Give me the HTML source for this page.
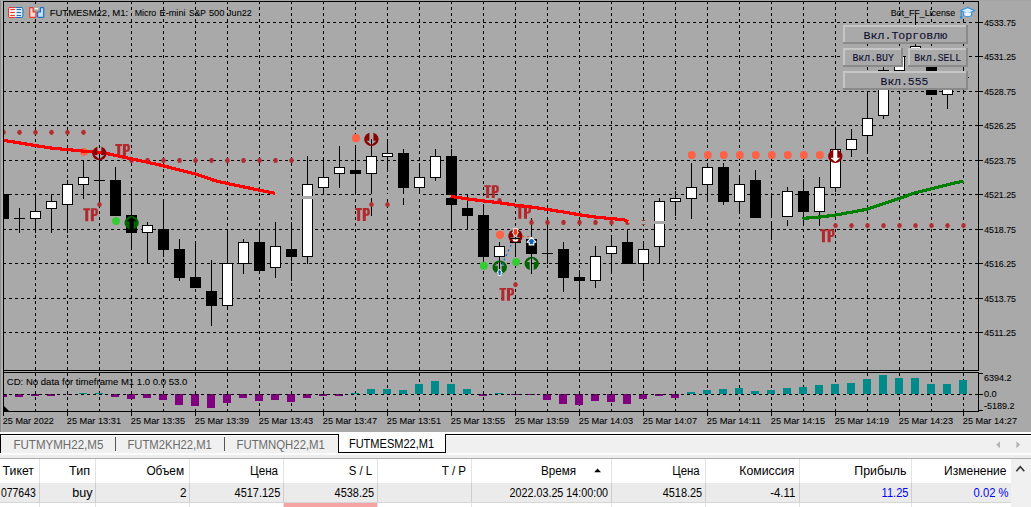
<!DOCTYPE html>
<html lang="ru"><head><meta charset="utf-8"><title>FUTMESM22,M1</title>
<style>
html,body{margin:0;padding:0;background:#fff;overflow:hidden}
body{width:1031px;height:507px;font-family:"Liberation Sans",sans-serif}
svg{display:block;position:absolute;left:0;top:0}
text{white-space:pre}
</style></head><body>
<svg width="1031" height="507" viewBox="0 0 1031 507">
<rect x="0" y="0" width="1031" height="507" fill="#fff"/>
<rect x="0" y="0" width="1031" height="432" fill="#A9A9A9"/>
<rect x="0" y="0" width="1" height="432" fill="#8e8e8e"/>
<rect x="1" y="0" width="2" height="432" fill="#b0b0b0"/>
<rect x="0" y="0" width="1031" height="1" fill="#a6a6a6"/>
<g shape-rendering="crispEdges">
<rect x="3" y="1" width="976" height="1" fill="#000"/>
<rect x="3" y="1" width="1" height="411" fill="#000"/>
<rect x="978" y="1" width="1" height="370" fill="#000"/>
<rect x="978" y="372" width="1" height="40" fill="#000"/>
<rect x="3" y="370" width="976" height="1" fill="#000"/>
<rect x="3" y="372" width="976" height="1" fill="#000"/>
<rect x="3" y="411" width="976" height="1" fill="#000"/>
<line x1="3" y1="22.5" x2="978" y2="22.5" stroke="#000" stroke-width="1" stroke-dasharray="3 3"/>
<line x1="3" y1="56.5" x2="978" y2="56.5" stroke="#000" stroke-width="1" stroke-dasharray="3 3"/>
<line x1="3" y1="91.5" x2="978" y2="91.5" stroke="#000" stroke-width="1" stroke-dasharray="3 3"/>
<line x1="3" y1="125.5" x2="978" y2="125.5" stroke="#000" stroke-width="1" stroke-dasharray="3 3"/>
<line x1="3" y1="160.5" x2="978" y2="160.5" stroke="#000" stroke-width="1" stroke-dasharray="3 3"/>
<line x1="3" y1="194.5" x2="978" y2="194.5" stroke="#000" stroke-width="1" stroke-dasharray="3 3"/>
<line x1="3" y1="229.5" x2="978" y2="229.5" stroke="#000" stroke-width="1" stroke-dasharray="3 3"/>
<line x1="3" y1="263.5" x2="978" y2="263.5" stroke="#000" stroke-width="1" stroke-dasharray="3 3"/>
<line x1="3" y1="298.5" x2="978" y2="298.5" stroke="#000" stroke-width="1" stroke-dasharray="3 3"/>
<line x1="3" y1="332.5" x2="978" y2="332.5" stroke="#000" stroke-width="1" stroke-dasharray="3 3"/>
<line x1="35.5" y1="1" x2="35.5" y2="370" stroke="#000" stroke-width="1" stroke-dasharray="3 3"/>
<line x1="35.5" y1="373" x2="35.5" y2="411" stroke="#000" stroke-width="1" stroke-dasharray="3 3"/>
<line x1="67.5" y1="1" x2="67.5" y2="370" stroke="#000" stroke-width="1" stroke-dasharray="3 3"/>
<line x1="67.5" y1="373" x2="67.5" y2="411" stroke="#000" stroke-width="1" stroke-dasharray="3 3"/>
<line x1="99.5" y1="1" x2="99.5" y2="370" stroke="#000" stroke-width="1" stroke-dasharray="3 3"/>
<line x1="99.5" y1="373" x2="99.5" y2="411" stroke="#000" stroke-width="1" stroke-dasharray="3 3"/>
<line x1="131.5" y1="1" x2="131.5" y2="370" stroke="#000" stroke-width="1" stroke-dasharray="3 3"/>
<line x1="131.5" y1="373" x2="131.5" y2="411" stroke="#000" stroke-width="1" stroke-dasharray="3 3"/>
<line x1="163.5" y1="1" x2="163.5" y2="370" stroke="#000" stroke-width="1" stroke-dasharray="3 3"/>
<line x1="163.5" y1="373" x2="163.5" y2="411" stroke="#000" stroke-width="1" stroke-dasharray="3 3"/>
<line x1="195.5" y1="1" x2="195.5" y2="370" stroke="#000" stroke-width="1" stroke-dasharray="3 3"/>
<line x1="195.5" y1="373" x2="195.5" y2="411" stroke="#000" stroke-width="1" stroke-dasharray="3 3"/>
<line x1="227.5" y1="1" x2="227.5" y2="370" stroke="#000" stroke-width="1" stroke-dasharray="3 3"/>
<line x1="227.5" y1="373" x2="227.5" y2="411" stroke="#000" stroke-width="1" stroke-dasharray="3 3"/>
<line x1="259.5" y1="1" x2="259.5" y2="370" stroke="#000" stroke-width="1" stroke-dasharray="3 3"/>
<line x1="259.5" y1="373" x2="259.5" y2="411" stroke="#000" stroke-width="1" stroke-dasharray="3 3"/>
<line x1="291.5" y1="1" x2="291.5" y2="370" stroke="#000" stroke-width="1" stroke-dasharray="3 3"/>
<line x1="291.5" y1="373" x2="291.5" y2="411" stroke="#000" stroke-width="1" stroke-dasharray="3 3"/>
<line x1="323.5" y1="1" x2="323.5" y2="370" stroke="#000" stroke-width="1" stroke-dasharray="3 3"/>
<line x1="323.5" y1="373" x2="323.5" y2="411" stroke="#000" stroke-width="1" stroke-dasharray="3 3"/>
<line x1="355.5" y1="1" x2="355.5" y2="370" stroke="#000" stroke-width="1" stroke-dasharray="3 3"/>
<line x1="355.5" y1="373" x2="355.5" y2="411" stroke="#000" stroke-width="1" stroke-dasharray="3 3"/>
<line x1="387.5" y1="1" x2="387.5" y2="370" stroke="#000" stroke-width="1" stroke-dasharray="3 3"/>
<line x1="387.5" y1="373" x2="387.5" y2="411" stroke="#000" stroke-width="1" stroke-dasharray="3 3"/>
<line x1="419.5" y1="1" x2="419.5" y2="370" stroke="#000" stroke-width="1" stroke-dasharray="3 3"/>
<line x1="419.5" y1="373" x2="419.5" y2="411" stroke="#000" stroke-width="1" stroke-dasharray="3 3"/>
<line x1="451.5" y1="1" x2="451.5" y2="370" stroke="#000" stroke-width="1" stroke-dasharray="3 3"/>
<line x1="451.5" y1="373" x2="451.5" y2="411" stroke="#000" stroke-width="1" stroke-dasharray="3 3"/>
<line x1="483.5" y1="1" x2="483.5" y2="370" stroke="#000" stroke-width="1" stroke-dasharray="3 3"/>
<line x1="483.5" y1="373" x2="483.5" y2="411" stroke="#000" stroke-width="1" stroke-dasharray="3 3"/>
<line x1="515.5" y1="1" x2="515.5" y2="370" stroke="#000" stroke-width="1" stroke-dasharray="3 3"/>
<line x1="515.5" y1="373" x2="515.5" y2="411" stroke="#000" stroke-width="1" stroke-dasharray="3 3"/>
<line x1="547.5" y1="1" x2="547.5" y2="370" stroke="#000" stroke-width="1" stroke-dasharray="3 3"/>
<line x1="547.5" y1="373" x2="547.5" y2="411" stroke="#000" stroke-width="1" stroke-dasharray="3 3"/>
<line x1="579.5" y1="1" x2="579.5" y2="370" stroke="#000" stroke-width="1" stroke-dasharray="3 3"/>
<line x1="579.5" y1="373" x2="579.5" y2="411" stroke="#000" stroke-width="1" stroke-dasharray="3 3"/>
<line x1="611.5" y1="1" x2="611.5" y2="370" stroke="#000" stroke-width="1" stroke-dasharray="3 3"/>
<line x1="611.5" y1="373" x2="611.5" y2="411" stroke="#000" stroke-width="1" stroke-dasharray="3 3"/>
<line x1="643.5" y1="1" x2="643.5" y2="370" stroke="#000" stroke-width="1" stroke-dasharray="3 3"/>
<line x1="643.5" y1="373" x2="643.5" y2="411" stroke="#000" stroke-width="1" stroke-dasharray="3 3"/>
<line x1="675.5" y1="1" x2="675.5" y2="370" stroke="#000" stroke-width="1" stroke-dasharray="3 3"/>
<line x1="675.5" y1="373" x2="675.5" y2="411" stroke="#000" stroke-width="1" stroke-dasharray="3 3"/>
<line x1="707.5" y1="1" x2="707.5" y2="370" stroke="#000" stroke-width="1" stroke-dasharray="3 3"/>
<line x1="707.5" y1="373" x2="707.5" y2="411" stroke="#000" stroke-width="1" stroke-dasharray="3 3"/>
<line x1="739.5" y1="1" x2="739.5" y2="370" stroke="#000" stroke-width="1" stroke-dasharray="3 3"/>
<line x1="739.5" y1="373" x2="739.5" y2="411" stroke="#000" stroke-width="1" stroke-dasharray="3 3"/>
<line x1="771.5" y1="1" x2="771.5" y2="370" stroke="#000" stroke-width="1" stroke-dasharray="3 3"/>
<line x1="771.5" y1="373" x2="771.5" y2="411" stroke="#000" stroke-width="1" stroke-dasharray="3 3"/>
<line x1="803.5" y1="1" x2="803.5" y2="370" stroke="#000" stroke-width="1" stroke-dasharray="3 3"/>
<line x1="803.5" y1="373" x2="803.5" y2="411" stroke="#000" stroke-width="1" stroke-dasharray="3 3"/>
<line x1="835.5" y1="1" x2="835.5" y2="370" stroke="#000" stroke-width="1" stroke-dasharray="3 3"/>
<line x1="835.5" y1="373" x2="835.5" y2="411" stroke="#000" stroke-width="1" stroke-dasharray="3 3"/>
<line x1="867.5" y1="1" x2="867.5" y2="370" stroke="#000" stroke-width="1" stroke-dasharray="3 3"/>
<line x1="867.5" y1="373" x2="867.5" y2="411" stroke="#000" stroke-width="1" stroke-dasharray="3 3"/>
<line x1="899.5" y1="1" x2="899.5" y2="370" stroke="#000" stroke-width="1" stroke-dasharray="3 3"/>
<line x1="899.5" y1="373" x2="899.5" y2="411" stroke="#000" stroke-width="1" stroke-dasharray="3 3"/>
<line x1="931.5" y1="1" x2="931.5" y2="370" stroke="#000" stroke-width="1" stroke-dasharray="3 3"/>
<line x1="931.5" y1="373" x2="931.5" y2="411" stroke="#000" stroke-width="1" stroke-dasharray="3 3"/>
<line x1="963.5" y1="1" x2="963.5" y2="370" stroke="#000" stroke-width="1" stroke-dasharray="3 3"/>
<line x1="963.5" y1="373" x2="963.5" y2="411" stroke="#000" stroke-width="1" stroke-dasharray="3 3"/>
<rect x="979" y="22" width="4" height="1" fill="#000"/>
<rect x="979" y="56" width="4" height="1" fill="#000"/>
<rect x="979" y="91" width="4" height="1" fill="#000"/>
<rect x="979" y="125" width="4" height="1" fill="#000"/>
<rect x="979" y="160" width="4" height="1" fill="#000"/>
<rect x="979" y="194" width="4" height="1" fill="#000"/>
<rect x="979" y="229" width="4" height="1" fill="#000"/>
<rect x="979" y="263" width="4" height="1" fill="#000"/>
<rect x="979" y="298" width="4" height="1" fill="#000"/>
<rect x="979" y="332" width="4" height="1" fill="#000"/>
<rect x="979" y="373" width="4" height="1" fill="#000"/>
<rect x="979" y="394" width="4" height="1" fill="#000"/>
<rect x="979" y="410" width="4" height="1" fill="#000"/>
<rect x="3" y="412" width="1" height="4" fill="#000"/>
<rect x="67" y="412" width="1" height="4" fill="#000"/>
<rect x="131" y="412" width="1" height="4" fill="#000"/>
<rect x="195" y="412" width="1" height="4" fill="#000"/>
<rect x="259" y="412" width="1" height="4" fill="#000"/>
<rect x="323" y="412" width="1" height="4" fill="#000"/>
<rect x="387" y="412" width="1" height="4" fill="#000"/>
<rect x="451" y="412" width="1" height="4" fill="#000"/>
<rect x="515" y="412" width="1" height="4" fill="#000"/>
<rect x="579" y="412" width="1" height="4" fill="#000"/>
<rect x="643" y="412" width="1" height="4" fill="#000"/>
<rect x="707" y="412" width="1" height="4" fill="#000"/>
<rect x="771" y="412" width="1" height="4" fill="#000"/>
<rect x="835" y="412" width="1" height="4" fill="#000"/>
<rect x="899" y="412" width="1" height="4" fill="#000"/>
<rect x="963" y="412" width="1" height="4" fill="#000"/>
</g>
<defs><clipPath id="cm"><rect x="4" y="2" width="974" height="368"/></clipPath></defs>
<g clip-path="url(#cm)">
<g shape-rendering="crispEdges">
<rect x="-2" y="194" width="11" height="25" fill="#000"/>
<rect x="19" y="208" width="1" height="25" fill="#000"/>
<rect x="14" y="218" width="11" height="1" fill="#000"/>
<rect x="35" y="194" width="1" height="39" fill="#000"/>
<rect x="30" y="211" width="11" height="8" fill="#000"/>
<rect x="31" y="212" width="9" height="6" fill="#fff"/>
<rect x="51" y="194" width="1" height="39" fill="#000"/>
<rect x="46" y="201" width="11" height="8" fill="#000"/>
<rect x="47" y="202" width="9" height="6" fill="#fff"/>
<rect x="67" y="180" width="1" height="53" fill="#000"/>
<rect x="62" y="184" width="11" height="21" fill="#000"/>
<rect x="63" y="185" width="9" height="19" fill="#fff"/>
<rect x="83" y="160" width="1" height="39" fill="#000"/>
<rect x="78" y="177" width="11" height="8" fill="#000"/>
<rect x="79" y="178" width="9" height="6" fill="#fff"/>
<rect x="99" y="153" width="1" height="52" fill="#000"/>
<rect x="94" y="180" width="11" height="1" fill="#000"/>
<rect x="115" y="167" width="1" height="49" fill="#000"/>
<rect x="110" y="180" width="11" height="36" fill="#000"/>
<rect x="131" y="187" width="1" height="63" fill="#000"/>
<rect x="126" y="215" width="11" height="18" fill="#000"/>
<rect x="147" y="222" width="1" height="42" fill="#000"/>
<rect x="142" y="225" width="11" height="8" fill="#000"/>
<rect x="143" y="226" width="9" height="6" fill="#fff"/>
<rect x="163" y="199" width="1" height="58" fill="#000"/>
<rect x="158" y="229" width="11" height="21" fill="#000"/>
<rect x="179" y="239" width="1" height="42" fill="#000"/>
<rect x="174" y="249" width="11" height="29" fill="#000"/>
<rect x="195" y="242" width="1" height="46" fill="#000"/>
<rect x="190" y="277" width="11" height="11" fill="#000"/>
<rect x="211" y="260" width="1" height="66" fill="#000"/>
<rect x="206" y="291" width="11" height="15" fill="#000"/>
<rect x="227" y="229" width="1" height="80" fill="#000"/>
<rect x="222" y="263" width="11" height="43" fill="#000"/>
<rect x="223" y="264" width="9" height="41" fill="#fff"/>
<rect x="243" y="239" width="1" height="35" fill="#000"/>
<rect x="238" y="242" width="11" height="22" fill="#000"/>
<rect x="239" y="243" width="9" height="20" fill="#fff"/>
<rect x="259" y="229" width="1" height="45" fill="#000"/>
<rect x="254" y="242" width="11" height="29" fill="#000"/>
<rect x="275" y="222" width="1" height="56" fill="#000"/>
<rect x="270" y="246" width="11" height="22" fill="#000"/>
<rect x="271" y="247" width="9" height="20" fill="#fff"/>
<rect x="291" y="222" width="1" height="59" fill="#000"/>
<rect x="286" y="249" width="11" height="8" fill="#000"/>
<rect x="307" y="156" width="1" height="108" fill="#000"/>
<rect x="302" y="184" width="11" height="73" fill="#000"/>
<rect x="303" y="185" width="9" height="71" fill="#fff"/>
<rect x="323" y="157" width="1" height="38" fill="#000"/>
<rect x="318" y="177" width="11" height="11" fill="#000"/>
<rect x="319" y="178" width="9" height="9" fill="#fff"/>
<rect x="339" y="146" width="1" height="42" fill="#000"/>
<rect x="334" y="167" width="11" height="7" fill="#000"/>
<rect x="335" y="168" width="9" height="5" fill="#fff"/>
<rect x="355" y="145" width="1" height="50" fill="#000"/>
<rect x="350" y="170" width="11" height="4" fill="#000"/>
<rect x="371" y="139" width="1" height="77" fill="#000"/>
<rect x="366" y="156" width="11" height="18" fill="#000"/>
<rect x="367" y="157" width="9" height="16" fill="#fff"/>
<rect x="387" y="139" width="1" height="33" fill="#000"/>
<rect x="382" y="153" width="11" height="4" fill="#000"/>
<rect x="383" y="154" width="9" height="2" fill="#fff"/>
<rect x="403" y="149" width="1" height="56" fill="#000"/>
<rect x="398" y="153" width="11" height="35" fill="#000"/>
<rect x="419" y="163" width="1" height="32" fill="#000"/>
<rect x="414" y="177" width="11" height="11" fill="#000"/>
<rect x="415" y="178" width="9" height="9" fill="#fff"/>
<rect x="435" y="149" width="1" height="32" fill="#000"/>
<rect x="430" y="156" width="11" height="22" fill="#000"/>
<rect x="431" y="157" width="9" height="20" fill="#fff"/>
<rect x="451" y="149" width="1" height="81" fill="#000"/>
<rect x="446" y="156" width="11" height="49" fill="#000"/>
<rect x="467" y="194" width="1" height="36" fill="#000"/>
<rect x="462" y="208" width="11" height="8" fill="#000"/>
<rect x="483" y="204" width="1" height="60" fill="#000"/>
<rect x="478" y="215" width="11" height="42" fill="#000"/>
<rect x="499" y="242" width="1" height="29" fill="#000"/>
<rect x="494" y="246" width="11" height="11" fill="#000"/>
<rect x="495" y="247" width="9" height="9" fill="#fff"/>
<rect x="515" y="229" width="1" height="28" fill="#000"/>
<rect x="510" y="241" width="11" height="2" fill="#000"/>
<rect x="531" y="218" width="1" height="56" fill="#000"/>
<rect x="526" y="239" width="11" height="15" fill="#000"/>
<rect x="547" y="222" width="1" height="42" fill="#000"/>
<rect x="542" y="253" width="11" height="1" fill="#000"/>
<rect x="563" y="242" width="1" height="50" fill="#000"/>
<rect x="558" y="249" width="11" height="29" fill="#000"/>
<rect x="579" y="270" width="1" height="34" fill="#000"/>
<rect x="574" y="277" width="11" height="4" fill="#000"/>
<rect x="595" y="246" width="1" height="42" fill="#000"/>
<rect x="590" y="256" width="11" height="25" fill="#000"/>
<rect x="591" y="257" width="9" height="23" fill="#fff"/>
<rect x="611" y="235" width="1" height="39" fill="#000"/>
<rect x="606" y="246" width="11" height="8" fill="#000"/>
<rect x="607" y="247" width="9" height="6" fill="#fff"/>
<rect x="627" y="229" width="1" height="35" fill="#000"/>
<rect x="622" y="242" width="11" height="22" fill="#000"/>
<rect x="643" y="241" width="1" height="40" fill="#000"/>
<rect x="638" y="249" width="11" height="15" fill="#000"/>
<rect x="639" y="250" width="9" height="13" fill="#fff"/>
<rect x="659" y="198" width="1" height="66" fill="#000"/>
<rect x="654" y="201" width="11" height="46" fill="#000"/>
<rect x="655" y="202" width="9" height="44" fill="#fff"/>
<rect x="675" y="191" width="1" height="25" fill="#000"/>
<rect x="670" y="198" width="11" height="4" fill="#000"/>
<rect x="671" y="199" width="9" height="2" fill="#fff"/>
<rect x="691" y="163" width="1" height="56" fill="#000"/>
<rect x="686" y="187" width="11" height="12" fill="#000"/>
<rect x="687" y="188" width="9" height="10" fill="#fff"/>
<rect x="707" y="163" width="1" height="39" fill="#000"/>
<rect x="702" y="167" width="11" height="18" fill="#000"/>
<rect x="703" y="168" width="9" height="16" fill="#fff"/>
<rect x="723" y="163" width="1" height="42" fill="#000"/>
<rect x="718" y="167" width="11" height="35" fill="#000"/>
<rect x="739" y="175" width="1" height="39" fill="#000"/>
<rect x="734" y="184" width="11" height="18" fill="#000"/>
<rect x="735" y="185" width="9" height="16" fill="#fff"/>
<rect x="755" y="170" width="1" height="48" fill="#000"/>
<rect x="750" y="180" width="11" height="38" fill="#000"/>
<rect x="771" y="194" width="1" height="46" fill="#000"/>
<rect x="787" y="187" width="1" height="39" fill="#000"/>
<rect x="782" y="191" width="11" height="26" fill="#000"/>
<rect x="783" y="192" width="9" height="24" fill="#fff"/>
<rect x="803" y="179" width="1" height="47" fill="#000"/>
<rect x="798" y="191" width="11" height="21" fill="#000"/>
<rect x="819" y="177" width="1" height="49" fill="#000"/>
<rect x="814" y="187" width="11" height="25" fill="#000"/>
<rect x="815" y="188" width="9" height="23" fill="#fff"/>
<rect x="835" y="127" width="1" height="65" fill="#000"/>
<rect x="830" y="149" width="11" height="39" fill="#000"/>
<rect x="831" y="150" width="9" height="37" fill="#fff"/>
<rect x="851" y="129" width="1" height="28" fill="#000"/>
<rect x="846" y="139" width="11" height="11" fill="#000"/>
<rect x="847" y="140" width="9" height="9" fill="#fff"/>
<rect x="867" y="91" width="1" height="61" fill="#000"/>
<rect x="862" y="118" width="11" height="18" fill="#000"/>
<rect x="863" y="119" width="9" height="16" fill="#fff"/>
<rect x="883" y="63" width="1" height="56" fill="#000"/>
<rect x="878" y="70" width="11" height="46" fill="#000"/>
<rect x="879" y="71" width="9" height="44" fill="#fff"/>
<rect x="899" y="53" width="1" height="21" fill="#000"/>
<rect x="894" y="56" width="11" height="15" fill="#000"/>
<rect x="895" y="57" width="9" height="13" fill="#fff"/>
<rect x="915" y="15" width="1" height="49" fill="#000"/>
<rect x="910" y="46" width="11" height="18" fill="#000"/>
<rect x="911" y="47" width="9" height="16" fill="#fff"/>
<rect x="931" y="60" width="1" height="35" fill="#000"/>
<rect x="926" y="63" width="11" height="32" fill="#000"/>
<rect x="947" y="73" width="1" height="36" fill="#000"/>
<rect x="942" y="73" width="11" height="22" fill="#000"/>
<rect x="943" y="74" width="9" height="20" fill="#fff"/>
<rect x="963" y="70" width="1" height="22" fill="#000"/>
<rect x="958" y="77" width="11" height="1" fill="#000"/>
</g>
<ellipse cx="3.5" cy="132.3" rx="2.25" ry="2.6" fill="#B52C30"/>
<ellipse cx="19.5" cy="132.3" rx="2.25" ry="2.6" fill="#B52C30"/>
<ellipse cx="35.5" cy="132.3" rx="2.25" ry="2.6" fill="#B52C30"/>
<ellipse cx="51.5" cy="132.3" rx="2.25" ry="2.6" fill="#B52C30"/>
<ellipse cx="67.5" cy="132.3" rx="2.25" ry="2.6" fill="#B52C30"/>
<ellipse cx="83.5" cy="132.3" rx="2.25" ry="2.6" fill="#B52C30"/>
<ellipse cx="131.5" cy="160.4" rx="2.25" ry="2.6" fill="#B52C30"/>
<ellipse cx="147.5" cy="160.4" rx="2.25" ry="2.6" fill="#B52C30"/>
<ellipse cx="163.5" cy="160.4" rx="2.25" ry="2.6" fill="#B52C30"/>
<ellipse cx="179.5" cy="160.4" rx="2.25" ry="2.6" fill="#B52C30"/>
<ellipse cx="195.5" cy="160.4" rx="2.25" ry="2.6" fill="#B52C30"/>
<ellipse cx="211.5" cy="160.4" rx="2.25" ry="2.6" fill="#B52C30"/>
<ellipse cx="227.5" cy="160.4" rx="2.25" ry="2.6" fill="#B52C30"/>
<ellipse cx="243.5" cy="160.4" rx="2.25" ry="2.6" fill="#B52C30"/>
<ellipse cx="259.5" cy="160.4" rx="2.25" ry="2.6" fill="#B52C30"/>
<ellipse cx="275.5" cy="160.4" rx="2.25" ry="2.6" fill="#B52C30"/>
<ellipse cx="291.5" cy="160.4" rx="2.25" ry="2.6" fill="#B52C30"/>
<ellipse cx="371.5" cy="204.5" rx="2.25" ry="2.6" fill="#B52C30"/>
<ellipse cx="387.5" cy="204.5" rx="2.25" ry="2.6" fill="#B52C30"/>
<ellipse cx="99.5" cy="204.5" rx="2.25" ry="2.6" fill="#B52C30"/>
<ellipse cx="499.5" cy="200.3" rx="2.05" ry="2.4" fill="#B52C30"/>
<ellipse cx="531.5" cy="222.4" rx="2.25" ry="2.6" fill="#B52C30"/>
<ellipse cx="547.5" cy="222.4" rx="2.25" ry="2.6" fill="#B52C30"/>
<ellipse cx="563.5" cy="222.4" rx="2.25" ry="2.6" fill="#B52C30"/>
<ellipse cx="579.5" cy="222.4" rx="2.25" ry="2.6" fill="#B52C30"/>
<ellipse cx="595.5" cy="222.4" rx="2.25" ry="2.6" fill="#B52C30"/>
<ellipse cx="611.5" cy="222.4" rx="2.25" ry="2.6" fill="#B52C30"/>
<ellipse cx="627.5" cy="222.4" rx="2.25" ry="2.6" fill="#B52C30"/>
<ellipse cx="643.5" cy="222.4" rx="2.25" ry="2.6" fill="#B52C30"/>
<ellipse cx="515.5" cy="284.6" rx="2.25" ry="2.6" fill="#B52C30"/>
<ellipse cx="835.5" cy="225.5" rx="2.25" ry="2.6" fill="#B52C30"/>
<ellipse cx="851.5" cy="225.5" rx="2.25" ry="2.6" fill="#B52C30"/>
<ellipse cx="867.5" cy="225.5" rx="2.25" ry="2.6" fill="#B52C30"/>
<ellipse cx="883.5" cy="225.5" rx="2.25" ry="2.6" fill="#B52C30"/>
<ellipse cx="899.5" cy="225.5" rx="2.25" ry="2.6" fill="#B52C30"/>
<ellipse cx="915.5" cy="225.5" rx="2.25" ry="2.6" fill="#B52C30"/>
<ellipse cx="931.5" cy="225.5" rx="2.25" ry="2.6" fill="#B52C30"/>
<ellipse cx="947.5" cy="225.5" rx="2.25" ry="2.6" fill="#B52C30"/>
<ellipse cx="963.5" cy="225.5" rx="2.25" ry="2.6" fill="#B52C30"/>
<circle cx="84" cy="151.9" r="3.85" fill="#FF6347"/>
<circle cx="356" cy="138.2" r="4.1" fill="#FF6347"/>
<circle cx="500" cy="234.8" r="4.2" fill="#FF6347"/>
<circle cx="691.8" cy="154.9" r="4.0" fill="#FF6347"/>
<circle cx="707.8" cy="154.9" r="4.0" fill="#FF6347"/>
<circle cx="723.8" cy="154.9" r="4.0" fill="#FF6347"/>
<circle cx="739.8" cy="154.9" r="4.0" fill="#FF6347"/>
<circle cx="755.8" cy="154.9" r="4.0" fill="#FF6347"/>
<circle cx="771.8" cy="154.9" r="4.0" fill="#FF6347"/>
<circle cx="787.8" cy="154.9" r="4.0" fill="#FF6347"/>
<circle cx="803.8" cy="154.9" r="4.0" fill="#FF6347"/>
<circle cx="819.8" cy="154.9" r="4.0" fill="#FF6347"/>
<circle cx="116" cy="221" r="3.9" fill="#32CD32"/>
<circle cx="483.8" cy="265.7" r="4.0" fill="#32CD32"/>
<circle cx="516.1" cy="262" r="4.0" fill="#32CD32"/>
<g transform="translate(115.3,144.1)" fill="#B2282D"><path d="M0,0H6.7V1.9H4.95V12.85H1.95V1.9H0Z"/><path fill-rule="evenodd" d="M7.55,0H12.1Q14.55,0 14.55,2.4V5.3Q14.55,7.7 12.1,7.7H10.6V12.85H7.55ZM10.6,1.8V5.9H11.3Q12.1,5.9 12.1,5.1V2.6Q12.1,1.8 11.3,1.8Z"/></g>
<g transform="translate(83.3,208.3)" fill="#B2282D"><path d="M0,0H6.7V1.9H4.95V12.85H1.95V1.9H0Z"/><path fill-rule="evenodd" d="M7.55,0H12.1Q14.55,0 14.55,2.4V5.3Q14.55,7.7 12.1,7.7H10.6V12.85H7.55ZM10.6,1.8V5.9H11.3Q12.1,5.9 12.1,5.1V2.6Q12.1,1.8 11.3,1.8Z"/></g>
<g transform="translate(355.2,208.1)" fill="#B2282D"><path d="M0,0H6.7V1.9H4.95V12.85H1.95V1.9H0Z"/><path fill-rule="evenodd" d="M7.55,0H12.1Q14.55,0 14.55,2.4V5.3Q14.55,7.7 12.1,7.7H10.6V12.85H7.55ZM10.6,1.8V5.9H11.3Q12.1,5.9 12.1,5.1V2.6Q12.1,1.8 11.3,1.8Z"/></g>
<g transform="translate(484.2,185.2)" fill="#B2282D"><path d="M0,0H6.7V1.9H4.95V12.85H1.95V1.9H0Z"/><path fill-rule="evenodd" d="M7.55,0H12.1Q14.55,0 14.55,2.4V5.3Q14.55,7.7 12.1,7.7H10.6V12.85H7.55ZM10.6,1.8V5.9H11.3Q12.1,5.9 12.1,5.1V2.6Q12.1,1.8 11.3,1.8Z"/></g>
<g transform="translate(516.4,205.8)" fill="#B2282D"><path d="M0,0H6.7V1.9H4.95V12.85H1.95V1.9H0Z"/><path fill-rule="evenodd" d="M7.55,0H12.1Q14.55,0 14.55,2.4V5.3Q14.55,7.7 12.1,7.7H10.6V12.85H7.55ZM10.6,1.8V5.9H11.3Q12.1,5.9 12.1,5.1V2.6Q12.1,1.8 11.3,1.8Z"/></g>
<g transform="translate(499.4,287.9)" fill="#B2282D"><path d="M0,0H6.7V1.9H4.95V12.85H1.95V1.9H0Z"/><path fill-rule="evenodd" d="M7.55,0H12.1Q14.55,0 14.55,2.4V5.3Q14.55,7.7 12.1,7.7H10.6V12.85H7.55ZM10.6,1.8V5.9H11.3Q12.1,5.9 12.1,5.1V2.6Q12.1,1.8 11.3,1.8Z"/></g>
<g transform="translate(820.0,229.3)" fill="#B2282D"><path d="M0,0H6.7V1.9H4.95V12.85H1.95V1.9H0Z"/><path fill-rule="evenodd" d="M7.55,0H12.1Q14.55,0 14.55,2.4V5.3Q14.55,7.7 12.1,7.7H10.6V12.85H7.55ZM10.6,1.8V5.9H11.3Q12.1,5.9 12.1,5.1V2.6Q12.1,1.8 11.3,1.8Z"/></g>
<polyline points="275,193.3 290,196.6 307,197.4 340,196.6 371,196.1 403,196.0 435,196.2 451,196.5" fill="none" stroke="#A9A9A9" stroke-width="3.2" stroke-linejoin="round" stroke-linecap="butt" shape-rendering="crispEdges"/>
<polyline points="628,221.7 643,222.3 659,222.3 691,222.0 723,221.4 755,220.6 771,219.9 787,218.7 803,218.3" fill="none" stroke="#A9A9A9" stroke-width="3.2" stroke-linejoin="round" stroke-linecap="butt" shape-rendering="crispEdges"/>
<polyline points="4,140.4 35,145.5 50,147.9 67.5,149.6 84,151.2 99.4,152.6 110,154.2 131.5,158.8 160,165.0 195.5,174.0 215,180.7 227.4,183.5 259.3,190.2 275,193.3" fill="none" stroke="#FF0000" stroke-width="3.2" stroke-linejoin="round" stroke-linecap="butt" shape-rendering="crispEdges"/>
<polyline points="450.6,196.4 467.2,198.9 483.4,200.9 499.3,202.7 515.7,205.2 531.3,207 547.7,209.5 563.6,212 579.5,214.8 595.6,217.1 611.5,218.6 624.1,219.7 628,221.7" fill="none" stroke="#FF0000" stroke-width="3.2" stroke-linejoin="round" stroke-linecap="butt" shape-rendering="crispEdges"/>
<polyline points="802.5,218.4 819.8,217 835.7,215 851.8,212.1 867.3,209.2 883.2,203.8 899.3,198.4 915.2,192.7 931.3,188.9 947.2,184.8 963.5,181.0" fill="none" stroke="#008000" stroke-width="3.2" stroke-linejoin="round" stroke-linecap="butt" shape-rendering="crispEdges"/>
<defs><mask id="mk" maskUnits="userSpaceOnUse" x="-9" y="-9" width="18" height="18"><rect x="-9" y="-9" width="18" height="18" fill="#fff"/><path d="M-2,-9H2V1.5H4.9L0,5.8L-4.9,1.5H-2Z" fill="#000"/></mask></defs>
<g transform="translate(99.4,153.4)" fill="#8B0000"><ellipse cx="0" cy="0" rx="7.15" ry="6.8" mask="url(#mk)"/></g>
<g transform="translate(371.4,139.2)" fill="#8B0000"><ellipse cx="0" cy="0" rx="7.15" ry="6.8" mask="url(#mk)"/></g>
<g transform="translate(515.4,236.1)" fill="#8B0000"><ellipse cx="0" cy="0" rx="7.15" ry="6.8" mask="url(#mk)"/></g>
<g transform="translate(835.3,156.3)" fill="#8B0000"><ellipse cx="0" cy="0" rx="7.15" ry="6.8" mask="url(#mk)"/></g>
<g transform="translate(131.6,222.8) scale(1,-1)" fill="#006400"><ellipse cx="0" cy="0" rx="7.15" ry="6.8" mask="url(#mk)"/></g>
<g transform="translate(499.7,267.2) scale(1,-1)" fill="#006400"><ellipse cx="0" cy="0" rx="7.15" ry="6.8" mask="url(#mk)"/></g>
<g transform="translate(531.7,263.5) scale(1,-1)" fill="#006400"><ellipse cx="0" cy="0" rx="7.15" ry="6.8" mask="url(#mk)"/></g>
<g shape-rendering="crispEdges">
<rect x="510" y="242" width="11" height="1" fill="#000"/>
<rect x="511" y="238" width="9" height="1" fill="#000"/>
</g>
<path d="M513.3,228.6H517.5V232.2H518.6L515.4,236.6L512.2,232.2H513.3Z" fill="#E8401C" stroke="#fff" stroke-width="0.9"/>
<path d="M512.4,239.6H518.4L517.2,241.4H513.6Z" fill="#fff"/>
<line x1="522" y1="236.5" x2="531" y2="236.5" stroke="#FF4500" stroke-width="1.2" stroke-dasharray="2 3"/>
<line x1="511" y1="245" x2="500.5" y2="268" stroke="#1A70DC" stroke-width="1.4" stroke-dasharray="2 3"/>
<path d="M531.5,237.3L536.0,242.2H533.8V244.9H529.2V242.2H527.0Z" fill="#1464B4" stroke="#fff" stroke-width="1.1" stroke-linejoin="round"/>
<path d="M499.6,269.4L502.3,272.6H501.0V275.6H498.2V272.6H496.9Z" fill="#1464B4" stroke="#fff" stroke-width="0.9" stroke-linejoin="round"/>
</g>
<g shape-rendering="crispEdges">
<rect x="4" y="394" width="3" height="3" fill="#800080"/>
<rect x="15" y="394" width="8" height="3" fill="#800080"/>
<rect x="31" y="394" width="8" height="2" fill="#800080"/>
<rect x="47" y="394" width="8" height="2" fill="#800080"/>
<rect x="67" y="394" width="4" height="1" fill="#800080"/>
<rect x="79" y="393" width="8" height="1" fill="#008B8B"/>
<rect x="95" y="393" width="8" height="1" fill="#008B8B"/>
<rect x="111" y="394" width="8" height="3" fill="#800080"/>
<rect x="127" y="394" width="8" height="5" fill="#800080"/>
<rect x="143" y="394" width="8" height="4" fill="#800080"/>
<rect x="159" y="394" width="8" height="6" fill="#800080"/>
<rect x="175" y="394" width="8" height="11" fill="#800080"/>
<rect x="191" y="394" width="8" height="12" fill="#800080"/>
<rect x="207" y="394" width="8" height="14" fill="#800080"/>
<rect x="223" y="394" width="8" height="9" fill="#800080"/>
<rect x="239" y="394" width="8" height="4" fill="#800080"/>
<rect x="255" y="394" width="8" height="7" fill="#800080"/>
<rect x="271" y="394" width="8" height="6" fill="#800080"/>
<rect x="287" y="394" width="8" height="8" fill="#800080"/>
<rect x="303" y="394" width="8" height="4" fill="#800080"/>
<rect x="319" y="394" width="8" height="2" fill="#800080"/>
<rect x="335" y="394" width="8" height="2" fill="#800080"/>
<rect x="351" y="393" width="8" height="1" fill="#008B8B"/>
<rect x="367" y="389" width="8" height="5" fill="#008B8B"/>
<rect x="383" y="389" width="8" height="5" fill="#008B8B"/>
<rect x="399" y="390" width="8" height="4" fill="#008B8B"/>
<rect x="415" y="384" width="8" height="10" fill="#008B8B"/>
<rect x="431" y="381" width="8" height="13" fill="#008B8B"/>
<rect x="447" y="384" width="8" height="10" fill="#008B8B"/>
<rect x="463" y="389" width="8" height="5" fill="#008B8B"/>
<rect x="479" y="394" width="8" height="2" fill="#800080"/>
<rect x="495" y="393" width="8" height="1" fill="#008B8B"/>
<rect x="511" y="394" width="8" height="1" fill="#800080"/>
<rect x="527" y="394" width="8" height="1" fill="#800080"/>
<rect x="543" y="394" width="8" height="6" fill="#800080"/>
<rect x="559" y="394" width="8" height="10" fill="#800080"/>
<rect x="575" y="394" width="8" height="11" fill="#800080"/>
<rect x="591" y="394" width="8" height="7" fill="#800080"/>
<rect x="607" y="394" width="8" height="8" fill="#800080"/>
<rect x="623" y="394" width="8" height="10" fill="#800080"/>
<rect x="639" y="394" width="8" height="5" fill="#800080"/>
<rect x="655" y="394" width="8" height="2" fill="#800080"/>
<rect x="671" y="394" width="8" height="4" fill="#800080"/>
<rect x="687" y="392" width="8" height="2" fill="#008B8B"/>
<rect x="703" y="390" width="8" height="4" fill="#008B8B"/>
<rect x="719" y="389" width="8" height="5" fill="#008B8B"/>
<rect x="735" y="388" width="8" height="6" fill="#008B8B"/>
<rect x="751" y="391" width="8" height="3" fill="#008B8B"/>
<rect x="767" y="390" width="8" height="4" fill="#008B8B"/>
<rect x="783" y="388" width="8" height="6" fill="#008B8B"/>
<rect x="799" y="387" width="8" height="7" fill="#008B8B"/>
<rect x="815" y="385" width="8" height="9" fill="#008B8B"/>
<rect x="831" y="384" width="8" height="10" fill="#008B8B"/>
<rect x="847" y="383" width="8" height="11" fill="#008B8B"/>
<rect x="863" y="379" width="8" height="15" fill="#008B8B"/>
<rect x="879" y="375" width="8" height="19" fill="#008B8B"/>
<rect x="895" y="378" width="8" height="16" fill="#008B8B"/>
<rect x="911" y="378" width="8" height="16" fill="#008B8B"/>
<rect x="927" y="384" width="8" height="10" fill="#008B8B"/>
<rect x="943" y="384" width="8" height="10" fill="#008B8B"/>
<rect x="959" y="380" width="8" height="14" fill="#008B8B"/>
<line x1="3" y1="394.5" x2="978" y2="394.5" stroke="#000" stroke-width="1" stroke-dasharray="3 3"/>
</g>
<path d="M4,406V411H9Z" fill="#000"/>
<g shape-rendering="crispEdges">
<rect x="843" y="25" width="125" height="19" fill="#A9A9A9"/>
<rect x="843" y="25" width="125" height="2" fill="#C6C6C6"/>
<rect x="843" y="25" width="2" height="19" fill="#C6C6C6"/>
<rect x="843" y="42" width="125" height="2" fill="#8A8A8A"/>
<rect x="966" y="25" width="2" height="19" fill="#8A8A8A"/>
<text x="863.5" y="38.9" font-family="Liberation Mono, monospace" font-size="11.8" fill="#0e0e30" stroke="#0e0e30" stroke-width="0.12" textLength="83.7" lengthAdjust="spacingAndGlyphs">Вкл.Торговлю</text>
<rect x="843" y="48" width="60" height="19" fill="#A9A9A9"/>
<rect x="843" y="48" width="60" height="2" fill="#C6C6C6"/>
<rect x="843" y="48" width="2" height="19" fill="#C6C6C6"/>
<rect x="843" y="65" width="60" height="2" fill="#8A8A8A"/>
<rect x="901" y="48" width="2" height="19" fill="#8A8A8A"/>
<text x="852.4" y="60.8" font-family="Liberation Mono, monospace" font-size="10.2" fill="#0e0e30" stroke="#0e0e30" stroke-width="0.12" textLength="41.5" lengthAdjust="spacingAndGlyphs">Вкл.BUY</text>
<rect x="908" y="48" width="60" height="19" fill="#A9A9A9"/>
<rect x="908" y="48" width="60" height="2" fill="#C6C6C6"/>
<rect x="908" y="48" width="2" height="19" fill="#C6C6C6"/>
<rect x="908" y="65" width="60" height="2" fill="#8A8A8A"/>
<rect x="966" y="48" width="2" height="19" fill="#8A8A8A"/>
<text x="914.2" y="60.8" font-family="Liberation Mono, monospace" font-size="10.2" fill="#0e0e30" stroke="#0e0e30" stroke-width="0.12" textLength="46.9" lengthAdjust="spacingAndGlyphs">Вкл.SELL</text>
<rect x="843" y="71" width="125" height="19" fill="#A9A9A9"/>
<rect x="843" y="71" width="125" height="2" fill="#C6C6C6"/>
<rect x="843" y="71" width="2" height="19" fill="#C6C6C6"/>
<rect x="843" y="88" width="125" height="2" fill="#8A8A8A"/>
<rect x="966" y="71" width="2" height="19" fill="#8A8A8A"/>
<text x="880.6" y="84.8" font-family="Liberation Mono, monospace" font-size="11.8" fill="#0e0e30" stroke="#0e0e30" stroke-width="0.12" textLength="47.7" lengthAdjust="spacingAndGlyphs">Вкл.555</text>
</g>
<text x="49.7" y="16.0" font-family="Liberation Sans, sans-serif" font-size="9.5" fill="#000" text-anchor="start" textLength="60.1" lengthAdjust="spacingAndGlyphs" stroke="#000" stroke-width="0.08">FUTMESM22,</text>
<text x="112.3" y="16.0" font-family="Liberation Sans, sans-serif" font-size="9.5" fill="#000" text-anchor="start" textLength="16.0" lengthAdjust="spacingAndGlyphs" stroke="#000" stroke-width="0.08">M1:</text>
<text x="134.7" y="16.0" font-family="Liberation Sans, sans-serif" font-size="9.5" fill="#000" text-anchor="start" textLength="21.6" lengthAdjust="spacingAndGlyphs" stroke="#000" stroke-width="0.08">Micro</text>
<text x="159.6" y="16.0" font-family="Liberation Sans, sans-serif" font-size="9.5" fill="#000" text-anchor="start" textLength="25.9" lengthAdjust="spacingAndGlyphs" stroke="#000" stroke-width="0.08">E-mini</text>
<text x="189.1" y="16.0" font-family="Liberation Sans, sans-serif" font-size="9.5" fill="#000" text-anchor="start" textLength="16.7" lengthAdjust="spacingAndGlyphs" stroke="#000" stroke-width="0.08">S&amp;P</text>
<text x="208.89999999999998" y="16.0" font-family="Liberation Sans, sans-serif" font-size="9.5" fill="#000" text-anchor="start" textLength="15.5" lengthAdjust="spacingAndGlyphs" stroke="#000" stroke-width="0.08">500</text>
<text x="227.1" y="16.0" font-family="Liberation Sans, sans-serif" font-size="9.5" fill="#000" text-anchor="start" textLength="24.6" lengthAdjust="spacingAndGlyphs" stroke="#000" stroke-width="0.08">Jun22</text>
<text x="890.7" y="15.8" font-family="Liberation Sans, sans-serif" font-size="9.5" fill="#000" text-anchor="start" textLength="64.5" lengthAdjust="spacingAndGlyphs" stroke="#000" stroke-width="0.08">Bot_FF_License</text>
<text x="6.8" y="384.9" font-family="Liberation Sans, sans-serif" font-size="9.5" fill="#000" text-anchor="start" textLength="180.5" lengthAdjust="spacingAndGlyphs" stroke="#000" stroke-width="0.08">CD: No data for timeframe M1 1.0 0.0 53.0</text>
<text x="984.2" y="25.9" font-family="Liberation Sans, sans-serif" font-size="9.5" fill="#000" text-anchor="start" textLength="31.8" lengthAdjust="spacingAndGlyphs" stroke="#000" stroke-width="0.08">4533.75</text>
<text x="984.2" y="59.9" font-family="Liberation Sans, sans-serif" font-size="9.5" fill="#000" text-anchor="start" textLength="31.8" lengthAdjust="spacingAndGlyphs" stroke="#000" stroke-width="0.08">4531.25</text>
<text x="984.2" y="94.9" font-family="Liberation Sans, sans-serif" font-size="9.5" fill="#000" text-anchor="start" textLength="31.8" lengthAdjust="spacingAndGlyphs" stroke="#000" stroke-width="0.08">4528.75</text>
<text x="984.2" y="128.9" font-family="Liberation Sans, sans-serif" font-size="9.5" fill="#000" text-anchor="start" textLength="31.8" lengthAdjust="spacingAndGlyphs" stroke="#000" stroke-width="0.08">4526.25</text>
<text x="984.2" y="163.9" font-family="Liberation Sans, sans-serif" font-size="9.5" fill="#000" text-anchor="start" textLength="31.8" lengthAdjust="spacingAndGlyphs" stroke="#000" stroke-width="0.08">4523.75</text>
<text x="984.2" y="197.9" font-family="Liberation Sans, sans-serif" font-size="9.5" fill="#000" text-anchor="start" textLength="31.8" lengthAdjust="spacingAndGlyphs" stroke="#000" stroke-width="0.08">4521.25</text>
<text x="984.2" y="232.9" font-family="Liberation Sans, sans-serif" font-size="9.5" fill="#000" text-anchor="start" textLength="31.8" lengthAdjust="spacingAndGlyphs" stroke="#000" stroke-width="0.08">4518.75</text>
<text x="984.2" y="266.9" font-family="Liberation Sans, sans-serif" font-size="9.5" fill="#000" text-anchor="start" textLength="31.8" lengthAdjust="spacingAndGlyphs" stroke="#000" stroke-width="0.08">4516.25</text>
<text x="984.2" y="301.9" font-family="Liberation Sans, sans-serif" font-size="9.5" fill="#000" text-anchor="start" textLength="31.8" lengthAdjust="spacingAndGlyphs" stroke="#000" stroke-width="0.08">4513.75</text>
<text x="984.2" y="335.9" font-family="Liberation Sans, sans-serif" font-size="9.5" fill="#000" text-anchor="start" textLength="31.8" lengthAdjust="spacingAndGlyphs" stroke="#000" stroke-width="0.08">4511.25</text>
<text x="983.9" y="380.9" font-family="Liberation Sans, sans-serif" font-size="9.5" fill="#000" text-anchor="start" textLength="27.6" lengthAdjust="spacingAndGlyphs" stroke="#000" stroke-width="0.08">6394.2</text>
<text x="983.9" y="397.0" font-family="Liberation Sans, sans-serif" font-size="9.5" fill="#000" text-anchor="start" textLength="12.8" lengthAdjust="spacingAndGlyphs" stroke="#000" stroke-width="0.08">0.0</text>
<text x="983.9" y="409.4" font-family="Liberation Sans, sans-serif" font-size="9.5" fill="#000" text-anchor="start" textLength="30.5" lengthAdjust="spacingAndGlyphs" stroke="#000" stroke-width="0.08">-5189.2</text>
<text x="2.8" y="423.8" font-family="Liberation Sans, sans-serif" font-size="9.5" fill="#000" text-anchor="start" textLength="51.0" lengthAdjust="spacingAndGlyphs" stroke="#000" stroke-width="0.08">25 Mar 2022</text>
<text x="66.8" y="423.8" font-family="Liberation Sans, sans-serif" font-size="9.5" fill="#000" text-anchor="start" textLength="54.2" lengthAdjust="spacingAndGlyphs" stroke="#000" stroke-width="0.08">25 Mar 13:31</text>
<text x="130.8" y="423.8" font-family="Liberation Sans, sans-serif" font-size="9.5" fill="#000" text-anchor="start" textLength="54.2" lengthAdjust="spacingAndGlyphs" stroke="#000" stroke-width="0.08">25 Mar 13:35</text>
<text x="194.8" y="423.8" font-family="Liberation Sans, sans-serif" font-size="9.5" fill="#000" text-anchor="start" textLength="54.2" lengthAdjust="spacingAndGlyphs" stroke="#000" stroke-width="0.08">25 Mar 13:39</text>
<text x="258.8" y="423.8" font-family="Liberation Sans, sans-serif" font-size="9.5" fill="#000" text-anchor="start" textLength="54.2" lengthAdjust="spacingAndGlyphs" stroke="#000" stroke-width="0.08">25 Mar 13:43</text>
<text x="322.8" y="423.8" font-family="Liberation Sans, sans-serif" font-size="9.5" fill="#000" text-anchor="start" textLength="54.2" lengthAdjust="spacingAndGlyphs" stroke="#000" stroke-width="0.08">25 Mar 13:47</text>
<text x="386.8" y="423.8" font-family="Liberation Sans, sans-serif" font-size="9.5" fill="#000" text-anchor="start" textLength="54.2" lengthAdjust="spacingAndGlyphs" stroke="#000" stroke-width="0.08">25 Mar 13:51</text>
<text x="450.8" y="423.8" font-family="Liberation Sans, sans-serif" font-size="9.5" fill="#000" text-anchor="start" textLength="54.2" lengthAdjust="spacingAndGlyphs" stroke="#000" stroke-width="0.08">25 Mar 13:55</text>
<text x="514.8" y="423.8" font-family="Liberation Sans, sans-serif" font-size="9.5" fill="#000" text-anchor="start" textLength="54.2" lengthAdjust="spacingAndGlyphs" stroke="#000" stroke-width="0.08">25 Mar 13:59</text>
<text x="578.8" y="423.8" font-family="Liberation Sans, sans-serif" font-size="9.5" fill="#000" text-anchor="start" textLength="54.2" lengthAdjust="spacingAndGlyphs" stroke="#000" stroke-width="0.08">25 Mar 14:03</text>
<text x="642.8" y="423.8" font-family="Liberation Sans, sans-serif" font-size="9.5" fill="#000" text-anchor="start" textLength="54.2" lengthAdjust="spacingAndGlyphs" stroke="#000" stroke-width="0.08">25 Mar 14:07</text>
<text x="706.8" y="423.8" font-family="Liberation Sans, sans-serif" font-size="9.5" fill="#000" text-anchor="start" textLength="54.2" lengthAdjust="spacingAndGlyphs" stroke="#000" stroke-width="0.08">25 Mar 14:11</text>
<text x="770.8" y="423.8" font-family="Liberation Sans, sans-serif" font-size="9.5" fill="#000" text-anchor="start" textLength="54.2" lengthAdjust="spacingAndGlyphs" stroke="#000" stroke-width="0.08">25 Mar 14:15</text>
<text x="834.8" y="423.8" font-family="Liberation Sans, sans-serif" font-size="9.5" fill="#000" text-anchor="start" textLength="54.2" lengthAdjust="spacingAndGlyphs" stroke="#000" stroke-width="0.08">25 Mar 14:19</text>
<text x="898.8" y="423.8" font-family="Liberation Sans, sans-serif" font-size="9.5" fill="#000" text-anchor="start" textLength="54.2" lengthAdjust="spacingAndGlyphs" stroke="#000" stroke-width="0.08">25 Mar 14:23</text>
<text x="962.8" y="423.8" font-family="Liberation Sans, sans-serif" font-size="9.5" fill="#000" text-anchor="start" textLength="54.2" lengthAdjust="spacingAndGlyphs" stroke="#000" stroke-width="0.08">25 Mar 14:27</text>
<g>
<rect x="8.6" y="7.6" width="14.2" height="9.8" rx="1.6" fill="#fff" stroke="none"/>
<path d="M15.7,7.6H10.2Q8.6,7.6 8.6,9.2V15.8Q8.6,17.4 10.2,17.4H15.7" fill="none" stroke="#E0392B" stroke-width="1.2"/>
<path d="M15.7,7.6H21.2Q22.8,7.6 22.8,9.2V15.8Q22.8,17.4 21.2,17.4H15.7" fill="none" stroke="#1E6FC0" stroke-width="1.2"/>
<rect x="15.7" y="8.2" width="6.5" height="8.6" fill="#DDEFFC"/>
<rect x="9.2" y="8.2" width="6.5" height="8.6" fill="#FFF1EC"/>
<line x1="10.3" y1="9.5" x2="14.8" y2="9.5" stroke="#E0392B" stroke-width="1.1"/>
<line x1="16.6" y1="9.5" x2="21.1" y2="9.5" stroke="#1E6FC0" stroke-width="1.1"/>
<line x1="10.3" y1="12.5" x2="14.8" y2="12.5" stroke="#E0392B" stroke-width="1.1"/>
<line x1="16.6" y1="12.5" x2="21.1" y2="12.5" stroke="#1E6FC0" stroke-width="1.1"/>
<line x1="10.3" y1="15.5" x2="14.8" y2="15.5" stroke="#E0392B" stroke-width="1.1"/>
<line x1="16.6" y1="15.5" x2="21.1" y2="15.5" stroke="#1E6FC0" stroke-width="1.1"/>
</g>
<rect x="28" y="4" width="17" height="15" fill="#A9A9A9"/>
<path d="M29.7,8.2Q29.7,7.7 30.2,7.7H32.6Q33.1,7.7 33.1,8.2V11.8H35.4Q35.9,11.8 35.9,12.3V16.8Q35.9,17.3 35.4,17.3H30.2Q29.7,17.3 29.7,16.8Z" fill="#FDDAD2" stroke="#E0392B" stroke-width="1.2"/>
<path d="M37.6,12.3Q37.6,11.8 38.1,11.8H40.4V8.2Q40.4,7.7 40.9,7.7H43.2Q43.7,7.7 43.7,8.2V16.8Q43.7,17.3 43.2,17.3H38.1Q37.6,17.3 37.6,16.8Z" fill="#BFE0FA" stroke="#1E6FC0" stroke-width="1.2"/>
<rect x="34.6" y="8.1" width="3.6" height="1.2" fill="#fff"/>
<rect x="959" y="4" width="17" height="15" fill="#A9A9A9"/>
<g fill="none" stroke="#2E8FDB" stroke-width="1.1" stroke-linejoin="round">
<path d="M960.6,10.6L967.6,7.4L974.6,10.6L967.6,13.8Z" fill="#D6ECFB"/>
<path d="M963.6,12.4V15.4Q967.6,18 971.6,15.4V12.4" fill="#E8F4FD"/>
<path d="M961.2,11V16.6"/>
<circle cx="961.2" cy="17.4" r="0.9" fill="#2E8FDB"/>
</g>
<g shape-rendering="crispEdges">
<rect x="0" y="432" width="1031" height="2" fill="#fff"/>
<rect x="0" y="434" width="1031" height="1" fill="#000"/>
<rect x="0" y="435" width="1031" height="1" fill="#fff"/>
<rect x="0" y="436" width="1031" height="17" fill="#F0F0F0"/>
<rect x="0" y="434" width="1" height="19" fill="#000"/>
<rect x="0" y="453" width="1031" height="2" fill="#FBFBFB"/>
<rect x="0" y="455" width="1031" height="3" fill="#ECECEC"/>
<rect x="0" y="458" width="1031" height="1" fill="#ADADAD"/>
<rect x="338" y="434" width="108" height="19" fill="#fff"/>
<rect x="338" y="434" width="1" height="19" fill="#000"/>
<rect x="445" y="434" width="1" height="19" fill="#000"/>
<rect x="338" y="452" width="108" height="1" fill="#000"/>
<rect x="115" y="437" width="1" height="14" fill="#555"/>
<rect x="224" y="437" width="1" height="14" fill="#555"/>
<rect x="0" y="459" width="1011" height="24" fill="#fff"/>
<rect x="0" y="483" width="1011" height="19" fill="#EBEBEB"/>
<rect x="0" y="502" width="1011" height="5" fill="#fff"/>
<rect x="1011" y="459" width="20" height="48" fill="#F0F0F0"/>
<rect x="39" y="459" width="1" height="48" fill="#E3E3E3"/>
<rect x="39" y="483" width="1" height="19" fill="#CDCDCD"/>
<rect x="95" y="459" width="1" height="48" fill="#E3E3E3"/>
<rect x="95" y="483" width="1" height="19" fill="#CDCDCD"/>
<rect x="189" y="459" width="1" height="48" fill="#E3E3E3"/>
<rect x="189" y="483" width="1" height="19" fill="#CDCDCD"/>
<rect x="283" y="459" width="1" height="48" fill="#E3E3E3"/>
<rect x="283" y="483" width="1" height="19" fill="#CDCDCD"/>
<rect x="377" y="459" width="1" height="48" fill="#E3E3E3"/>
<rect x="377" y="483" width="1" height="19" fill="#CDCDCD"/>
<rect x="471" y="459" width="1" height="48" fill="#E3E3E3"/>
<rect x="471" y="483" width="1" height="19" fill="#CDCDCD"/>
<rect x="611" y="459" width="1" height="48" fill="#E3E3E3"/>
<rect x="611" y="483" width="1" height="19" fill="#CDCDCD"/>
<rect x="705" y="459" width="1" height="48" fill="#E3E3E3"/>
<rect x="705" y="483" width="1" height="19" fill="#CDCDCD"/>
<rect x="799" y="459" width="1" height="48" fill="#E3E3E3"/>
<rect x="799" y="483" width="1" height="19" fill="#CDCDCD"/>
<rect x="911" y="459" width="1" height="48" fill="#E3E3E3"/>
<rect x="911" y="483" width="1" height="19" fill="#CDCDCD"/>
<rect x="0" y="502" width="1011" height="1" fill="#D6D6D6"/>
<rect x="284" y="503" width="93" height="4" fill="#F5A3A3"/>
</g>
<text x="13.4" y="448.6" font-family="Liberation Sans, sans-serif" font-size="12" fill="#6B6B6B" text-anchor="start" textLength="90.0" lengthAdjust="spacingAndGlyphs">FUTMYMH22,M5</text>
<text x="127.4" y="448.6" font-family="Liberation Sans, sans-serif" font-size="12" fill="#6B6B6B" text-anchor="start" textLength="84.5" lengthAdjust="spacingAndGlyphs">FUTM2KH22,M1</text>
<text x="236.5" y="448.6" font-family="Liberation Sans, sans-serif" font-size="12" fill="#6B6B6B" text-anchor="start" textLength="88.4" lengthAdjust="spacingAndGlyphs">FUTMNQH22,M1</text>
<text x="348.9" y="447.8" font-family="Liberation Sans, sans-serif" font-size="12" fill="#000" text-anchor="start" textLength="85.2" lengthAdjust="spacingAndGlyphs">FUTMESM22,M1</text>
<path d="M1000,441.2V448.2L996.2,444.7Z" fill="#B4B4B4"/>
<path d="M1016.4,441.2V448.2L1020.2,444.7Z" fill="#B4B4B4"/>
<path d="M1016.3,471.2L1020.3,466.8L1024.3,471.2" fill="none" stroke="#333" stroke-width="1.6"/>
<text x="2.6" y="475.0" font-family="Liberation Sans, sans-serif" font-size="12" fill="#000" text-anchor="start" textLength="31.4" lengthAdjust="spacingAndGlyphs">Тикет</text>
<text x="69.0" y="475.0" font-family="Liberation Sans, sans-serif" font-size="12" fill="#000" text-anchor="start" textLength="21.0" lengthAdjust="spacingAndGlyphs">Тип</text>
<text x="146.4" y="475.0" font-family="Liberation Sans, sans-serif" font-size="12" fill="#000" text-anchor="start" textLength="37.7" lengthAdjust="spacingAndGlyphs">Объем</text>
<text x="250.1" y="475.0" font-family="Liberation Sans, sans-serif" font-size="12" fill="#000" text-anchor="start" textLength="28.0" lengthAdjust="spacingAndGlyphs">Цена</text>
<text x="348.70000000000005" y="475.0" font-family="Liberation Sans, sans-serif" font-size="12" fill="#000" text-anchor="start" textLength="23.4" lengthAdjust="spacingAndGlyphs">S / L</text>
<text x="441.8" y="475.0" font-family="Liberation Sans, sans-serif" font-size="12" fill="#000" text-anchor="start" textLength="24.3" lengthAdjust="spacingAndGlyphs">T / P</text>
<text x="541.1" y="475.0" font-family="Liberation Sans, sans-serif" font-size="12" fill="#000" text-anchor="start" textLength="35.0" lengthAdjust="spacingAndGlyphs">Время</text>
<path d="M594.2,472.2H601L597.6,468.6Z" fill="#000"/>
<text x="672.3000000000001" y="475.0" font-family="Liberation Sans, sans-serif" font-size="12" fill="#000" text-anchor="start" textLength="27.4" lengthAdjust="spacingAndGlyphs">Цена</text>
<text x="739.3000000000001" y="475.0" font-family="Liberation Sans, sans-serif" font-size="12" fill="#000" text-anchor="start" textLength="55.1" lengthAdjust="spacingAndGlyphs">Комиссия</text>
<text x="854.3000000000001" y="475.0" font-family="Liberation Sans, sans-serif" font-size="12" fill="#000" text-anchor="start" textLength="52.1" lengthAdjust="spacingAndGlyphs">Прибыль</text>
<text x="944.1" y="475.0" font-family="Liberation Sans, sans-serif" font-size="12" fill="#000" text-anchor="start" textLength="62.4" lengthAdjust="spacingAndGlyphs">Изменение</text>
<text x="0.9" y="496.7" font-family="Liberation Sans, sans-serif" font-size="12" fill="#000" text-anchor="start" textLength="34.9" lengthAdjust="spacingAndGlyphs">077643</text>
<text x="72.19999999999999" y="496.7" font-family="Liberation Sans, sans-serif" font-size="12" fill="#000" text-anchor="start" textLength="20.3" lengthAdjust="spacingAndGlyphs">buy</text>
<text x="179.9" y="496.7" font-family="Liberation Sans, sans-serif" font-size="12" fill="#000" text-anchor="start" textLength="6.5" lengthAdjust="spacingAndGlyphs">2</text>
<text x="234.6" y="496.7" font-family="Liberation Sans, sans-serif" font-size="12" fill="#000" text-anchor="start" textLength="45.7" lengthAdjust="spacingAndGlyphs">4517.125</text>
<text x="334.6" y="496.7" font-family="Liberation Sans, sans-serif" font-size="12" fill="#000" text-anchor="start" textLength="39.5" lengthAdjust="spacingAndGlyphs">4538.25</text>
<text x="509.6" y="496.7" font-family="Liberation Sans, sans-serif" font-size="12" fill="#000" text-anchor="start" textLength="98.5" lengthAdjust="spacingAndGlyphs">2022.03.25 14:00:00</text>
<text x="662.7" y="496.7" font-family="Liberation Sans, sans-serif" font-size="12" fill="#000" text-anchor="start" textLength="39.5" lengthAdjust="spacingAndGlyphs">4518.25</text>
<text x="770.2" y="496.7" font-family="Liberation Sans, sans-serif" font-size="12" fill="#000" text-anchor="start" textLength="25.1" lengthAdjust="spacingAndGlyphs">-4.11</text>
<text x="881.6" y="496.7" font-family="Liberation Sans, sans-serif" font-size="12" fill="#0000FF" text-anchor="start" textLength="26.9" lengthAdjust="spacingAndGlyphs">11.25</text>
<text x="973.6" y="496.7" font-family="Liberation Sans, sans-serif" font-size="12" fill="#0000FF" text-anchor="start" textLength="34.9" lengthAdjust="spacingAndGlyphs">0.02 %</text>
</svg>
</body></html>
